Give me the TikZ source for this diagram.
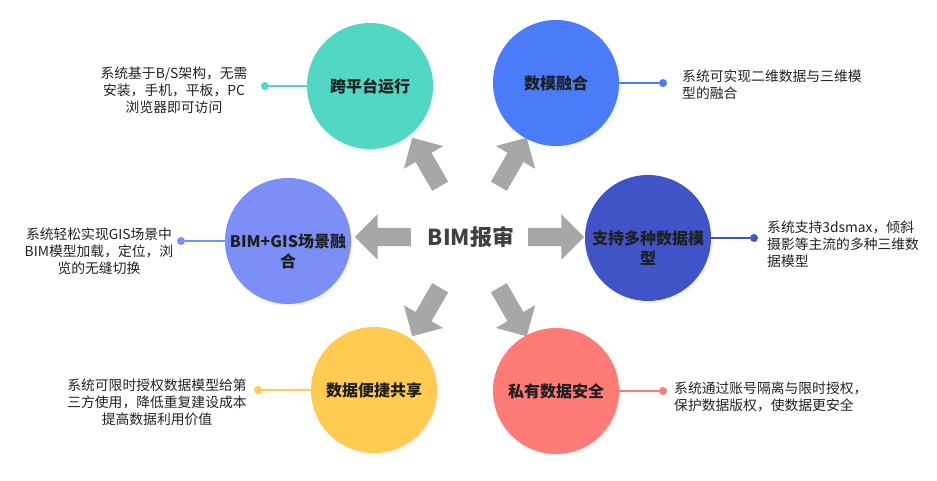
\documentclass[tikz,border=0pt]{standalone}
\usepackage{fontspec}
\setmainfont{Noto Sans CJK SC}
\usetikzlibrary{shapes.arrows,shadows,fadings,calc}
\definecolor{bimteal}{HTML}{50D8C5}
\definecolor{bimblue}{HTML}{4A7CFA}
\definecolor{bimlilac}{HTML}{7B8FF7}
\definecolor{bimindigo}{HTML}{4054C8}
\definecolor{bimyellow}{HTML}{FFCB50}
\definecolor{bimsalmon}{HTML}{FF7B78}
\definecolor{arrowgrey}{HTML}{A6A7A6}
\definecolor{hubtext}{HTML}{404040}
\definecolor{desctext}{HTML}{222222}

\begin{document}
\begin{tikzpicture}[
  x=1pt, y=1pt,
  feature/.style={
    circle, minimum size=126pt, inner sep=0pt, align=center,
    font=\fontsize{16}{20}\selectfont\bfseries, text=black!88,
    circular drop shadow={shadow xshift=1.5pt, shadow yshift=-2pt,
                          shadow scale=1.02, opacity=0.28}},
  flabel/.style={font=\fontsize{16}{20}\selectfont\bfseries, text=black!88,
    align=center, inner sep=0pt},
  desc/.style={font=\fontsize{13.8}{16.8}\selectfont, text=desctext, inner sep=0pt},
  pin/.style={circle, minimum size=8pt, inner sep=0pt},
  link/.style={line width=1.6pt},
  bigarrow/.style={
    single arrow, fill=arrowgrey, draw=none,
    inner xsep=0pt, inner ysep=9pt, minimum height=56pt,
    single arrow head extend=13.5pt},
]
\useasboundingbox (0,0) rectangle (937,-481);

% ================= hub =============================================
\coordinate (hub) at (469.5,-237);
\node[font=\fontsize{22}{26}\selectfont\bfseries, text=hubtext] (title) at (471,-237) {BIM报审};

\foreach \a [count=\i] in {0,60,...,300}
  \node[bigarrow, rotate=\a] (arrow\i) at ($(hub)+(\a:82)$) {};

% ================= features ========================================
\node[feature, fill=bimteal]   (cross)  at (370,-86)  {跨平台运行};
\node[feature, fill=bimblue]   (fusion) at (556,-83)  {数模融合};
\node[feature, fill=bimlilac]  (gis)    at (288,-241) {};
\node[feature, fill=bimindigo] (multi)  at (648,-238) {};
\node[feature, fill=bimyellow] (share)  at (374,-390) {数据便捷共享};
\node[feature, fill=bimsalmon] (secure) at (556,-391) {私有数据安全};

% two-line labels: first line sits on the centre
\node[flabel, anchor=north] (gis-text)   at ([yshift=7pt]gis.center)   {BIM+GIS场景融\\合};
\node[flabel, anchor=north] (multi-text) at ([yshift=7pt]multi.center) {支持多种数据模\\型};

% ================= pins and notes ==================================
\node[pin, fill=bimteal]   (cross-dot)  at (265,-86)  {};
\node[pin, fill=bimblue]   (fusion-dot) at (663,-83)  {};
\node[pin, fill=bimlilac]  (gis-dot)    at (181,-241) {};
\node[pin, fill=bimindigo] (multi-dot)  at (754,-238) {};
\node[pin, fill=bimyellow] (share-dot)  at (258,-390) {};
\node[pin, fill=bimsalmon] (secure-dot) at (663,-391) {};

\foreach \n/\c in {cross/bimteal, fusion/bimblue, gis/bimlilac,
                   multi/bimindigo, share/bimyellow, secure/bimsalmon}
  \draw[link, \c] (\n) -- (\n-dot);

\node[desc, align=center] (cross-desc) at (174,-90.5)
  {系统基于B/S架构，无需\\安装，手机，平板，PC\\浏览器即可访问};
\node[desc, align=left, anchor=west] (fusion-desc) at (682,-84.5)
  {系统可实现二维数据与三维模\\型的融合};
\node[desc, align=center] (gis-desc) at (99,-251.5)
  {系统轻松实现GIS场景中\\BIM模型加载，定位，浏\\览的无缝切换};
\node[desc, align=left, anchor=west] (multi-desc) at (767,-244)
  {系统支持3dsmax，倾斜\\摄影等主流的多种三维数\\据模型};
\node[desc, align=center] (share-desc) at (157,-402)
  {系统可限时授权数据模型给第\\三方使用，降低重复建设成本\\提高数据利用价值};
\node[desc, align=left, anchor=west] (secure-desc) at (674,-397)
  {系统通过账号隔离与限时授权，\\保护数据版权，使数据更安全};

\end{tikzpicture}
\end{document}
